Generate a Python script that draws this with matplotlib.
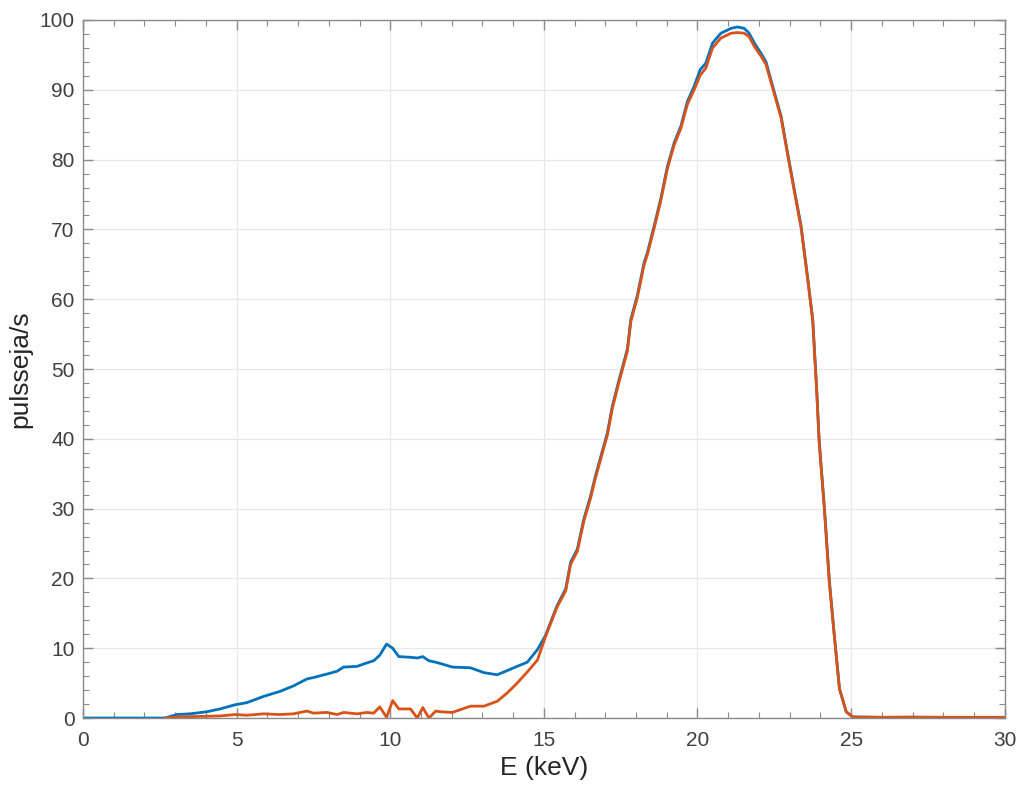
import numpy as np
import matplotlib
matplotlib.use("Agg")
import matplotlib.pyplot as plt
from matplotlib.ticker import MultipleLocator

plt.rcParams["font.family"] = ["Liberation Sans", "DejaVu Sans"]

# energia (keV)
energy = [
    0.0, 2.67, 3.05, 3.48, 4.03, 4.46, 4.95, 5.33, 5.88, 6.4, 6.85, 7.29, 7.5,
    7.94, 8.27, 8.48, 8.92, 9.24, 9.46, 9.66, 9.88, 10.08, 10.28, 10.66, 10.88,
    11.06, 11.26, 11.48, 11.64, 12.02, 12.61, 13.05, 13.48, 13.81, 14.13, 14.46,
    14.79, 15.05, 15.43, 15.71, 15.87, 16.09, 16.3, 16.52, 16.68, 16.9, 17.07,
    17.23, 17.45, 17.72, 17.83, 18.04, 18.26, 18.37, 18.59, 18.8, 19.02, 19.24,
    19.46, 19.67, 19.89, 20.09, 20.27, 20.49, 20.76, 21.09, 21.3, 21.52, 21.68,
    21.85, 22.07, 22.23, 22.39, 22.72, 22.93, 23.15, 23.37, 23.59, 23.75, 23.88,
    23.96, 24.13, 24.29, 24.45, 24.62, 24.84, 25.05, 26.0, 27.0, 28.0, 29.0, 30.0,
]

# mittaus 1 (sininen)
counts_blue = [
    0.0, 0.0, 0.5, 0.6, 0.9, 1.3, 1.9, 2.2, 3.1, 3.8, 4.6, 5.6, 5.8,
    6.3, 6.7, 7.3, 7.4, 7.9, 8.2, 9.0, 10.6, 10.0, 8.8, 8.7, 8.6,
    8.8, 8.2, 8.0, 7.8, 7.3, 7.2, 6.5, 6.2, 6.8, 7.4, 8.0,
    9.8, 11.8, 16.1, 18.5, 22.3, 24.2, 28.5, 31.8, 34.7, 38.2, 40.9,
    44.7, 48.5, 52.9, 57.1, 60.5, 65.2, 66.7, 70.5, 74.3, 79.0, 82.4,
    84.8, 88.3, 90.5, 92.9, 93.8, 96.7, 98.1, 98.8, 99.0, 98.8, 98.1,
    96.7, 95.2, 94.0, 91.4, 86.2, 81.0, 75.7, 70.5, 62.9, 57.1, 47.0,
    39.7, 30.1, 19.7, 12.0, 4.2, 0.9, 0.15, 0.1, 0.12, 0.1, 0.1, 0.1,
]

# mittaus 2 (oranssi)
counts_orange = [
    np.nan, 0.0, 0.15, 0.2, 0.25, 0.3, 0.5, 0.4, 0.6, 0.5, 0.6, 1.0, 0.7,
    0.8, 0.5, 0.8, 0.6, 0.8, 0.7, 1.6, 0.1, 2.5, 1.3, 1.3, 0.0,
    1.5, 0.0, 1.0, 0.9, 0.8, 1.7, 1.7, 2.4, 3.6, 5.0, 6.6,
    8.3, 11.6, 15.9, 18.2, 22.0, 23.9, 28.2, 31.5, 34.4, 37.9, 40.6,
    44.4, 48.2, 52.6, 56.8, 60.2, 64.9, 66.4, 70.2, 74.0, 78.7, 82.1,
    84.5, 87.9, 90.0, 92.1, 93.1, 96.0, 97.4, 98.1, 98.2, 98.1, 97.6,
    96.2, 94.8, 93.6, 91.1, 86.0, 80.8, 75.5, 70.3, 62.7, 56.9, 46.8,
    39.5, 29.9, 19.5, 11.9, 4.2, 0.9, 0.15, 0.1, 0.12, 0.1, 0.1, 0.1,
]

fig = plt.figure(figsize=(10.18, 7.9), dpi=100)
ax = fig.add_axes([0.0815, 0.0911, 0.9055, 0.8836])

ax.plot(energy, counts_blue, color="#0072BD", lw=2.0)
ax.plot(energy, counts_orange, color="#D95319", lw=2.0)

ax.set_xlim(0, 30)
ax.set_ylim(0, 100)
ax.xaxis.set_major_locator(MultipleLocator(5))
ax.xaxis.set_minor_locator(MultipleLocator(1))
ax.yaxis.set_major_locator(MultipleLocator(10))
ax.yaxis.set_minor_locator(MultipleLocator(2))

ax.grid(True, which="major", color="#e8e8e8", lw=0.9)
ax.set_axisbelow(True)
for s in ax.spines.values():
    s.set_color("#8a8a8a")
    s.set_linewidth(1.0)
ax.tick_params(which="both", direction="in", top=True, right=True,
               colors="#8a8a8a", labelcolor="#404040", labelsize=15)
ax.tick_params(which="major", length=7, width=1.0)
ax.tick_params(axis="x", which="major", pad=9)
ax.tick_params(axis="y", which="major", pad=6)
ax.tick_params(which="minor", length=4, width=0.8)

ax.set_xlabel("E (keV)", fontsize=19, color="#262626", labelpad=5)
ax.set_ylabel("pulsseja/s", fontsize=19, color="#262626", labelpad=5)

fig.savefig("out.png", dpi=100)
